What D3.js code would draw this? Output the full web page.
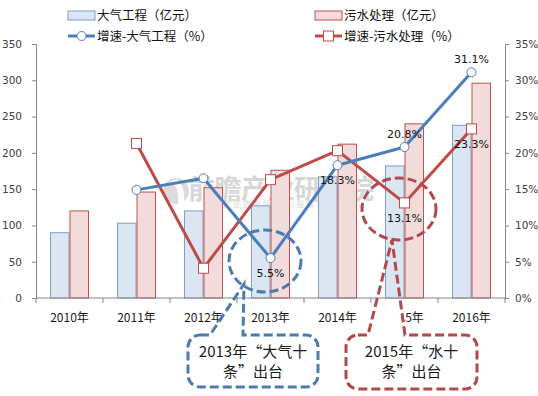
<!DOCTYPE html>
<html>
<head>
<meta charset="utf-8">
<script src="https://cdn.jsdelivr.net/npm/d3@7"></script>
<style>
  html, body { margin: 0; padding: 0; background: #fff; }
  svg { display: block; }
</style>
</head>
<body>
<script>
// Chart data
const years = ["2010年", "2011年", "2012年", "2013年", "2014年", "2015年", "2016年"];
const airInvest = [90, 103, 120, 127, 167, 182, 238];      // 大气工程（亿元）
const waterInvest = [120, 146, 152, 176, 212, 240, 296];   // 污水处理（亿元）
const airGrowth = [null, 14.9, 16.5, 5.5, 18.3, 20.8, 31.1];   // 增速-大气工程（%）
const waterGrowth = [null, 21.3, 4.1, 16.3, 20.3, 13.1, 23.3]; // 增速-污水处理（%）
const leftTicks = [0, 50, 100, 150, 200, 250, 300, 350];
const rightTicks = [0, 5, 10, 15, 20, 25, 30, 35];
// labelled growth points: year index, placement
const airLabels = [[3, "below"], [4, "below"], [5, "above"], [6, "above"]];
const waterLabels = [[5, "below"], [6, "below"]];

const W = 538, H = 396;
const blue = "#4a7ebb", red = "#be4b48";
const blueFill = "#dce6f2", blueEdge = "#7f9fca";
const pinkFill = "#f2dcdb", pinkEdge = "#c0504d";
const numFont = "'DejaVu Sans', Verdana, sans-serif";
const cjkFont = "'Noto Sans CJK SC', 'Noto Sans', sans-serif";

const svg = d3.select("body").append("svg").attr("width", W).attr("height", H);

const plot = { left: 36, right: 505, top: 44, bottom: 298 };
const x = d3.scaleBand().domain(years).range([plot.left, plot.right]).padding(0);
const xs = d3.scaleBand().domain(["air", "water"]).range([14, 53]).padding(0);
const yL = d3.scaleLinear().domain([0, 350]).range([plot.bottom, plot.top]);
const yR = d3.scaleLinear().domain([0, 35]).range([plot.bottom, plot.top]);
const cx = i => x(years[i]) + x.bandwidth() / 2;

// Watermark
const wm = svg.append("g").attr("opacity", 0.45);
wm.append("circle").attr("cx", 176).attr("cy", 191).attr("r", 13).attr("fill", "#b0b0b0");
wm.append("path").attr("d", "M170,182 Q180,186 178,204 L184,204 Q186,186 176,179 Z").attr("fill", "#fff");
wm.append("text").attr("x", 188).attr("y", 199).attr("font-family", cjkFont).attr("font-size", 27)
  .attr("font-weight", "bold").attr("fill", "#a8a8a8").attr("textLength", 186).text("前瞻产业研究院");
wm.append("text").attr("x", 203).attr("y", 207).attr("font-family", cjkFont).attr("font-size", 8)
  .attr("fill", "#a8a8a8").attr("textLength", 158).text("中国产业咨询领导者(股票:839559)");

// Bars
const barG = svg.append("g");
years.forEach((yr, i) => {
  barG.append("rect")
    .attr("x", x(yr) + xs("air") + 0.5).attr("width", xs.bandwidth() - 1)
    .attr("y", yL(airInvest[i])).attr("height", yL(0) - yL(airInvest[i]))
    .attr("fill", blueFill).attr("stroke", blueEdge).attr("stroke-width", 1);
  barG.append("rect")
    .attr("x", x(yr) + xs("water") + 0.5).attr("width", xs.bandwidth() - 1)
    .attr("y", yL(waterInvest[i])).attr("height", yL(0) - yL(waterInvest[i]))
    .attr("fill", pinkFill).attr("stroke", pinkEdge).attr("stroke-width", 1);
});

// Axes
const axisColor = "#868686";
const gL = svg.append("g").attr("transform", `translate(${plot.left},0)`)
  .call(d3.axisLeft(yL).tickValues(leftTicks).tickSize(4).tickPadding(10));
const gR = svg.append("g").attr("transform", `translate(${plot.right},0)`)
  .call(d3.axisRight(yR).tickValues(rightTicks).tickSize(4).tickPadding(6).tickFormat(d => d + "%"));
[gL, gR].forEach(g => {
  g.select(".domain").attr("stroke", axisColor);
  g.selectAll(".tick line").attr("stroke", axisColor);
  g.selectAll(".tick text").attr("fill", "#404040").attr("font-family", numFont).attr("font-size", 10.5);
});

// Category axis
const gX = svg.append("g").attr("transform", `translate(0,${plot.bottom})`);
gX.append("line").attr("x1", plot.left).attr("x2", plot.right).attr("stroke", axisColor);
d3.range(years.length + 1).forEach(k => {
  const xx = plot.left + k * x.bandwidth();
  gX.append("line").attr("x1", xx).attr("x2", xx).attr("y1", 0).attr("y2", 5).attr("stroke", axisColor);
});
years.forEach((yr, i) => {
  gX.append("text").attr("x", cx(i)).attr("y", 24).attr("text-anchor", "middle")
    .attr("font-family", cjkFont).attr("font-size", 12).attr("fill", "#1a1a1a").text(yr);
});

// Growth lines
function drawLine(vals, color, marker) {
  const pts = vals.map((v, i) => [i, v]).filter(p => p[1] != null);
  const line = d3.line().x(p => cx(p[0])).y(p => yR(p[1]));
  svg.append("path").datum(pts).attr("d", line).attr("fill", "none")
    .attr("stroke", color).attr("stroke-width", 3).attr("stroke-linejoin", "round");
  pts.forEach(p => {
    if (marker === "circle") {
      svg.append("circle").attr("cx", cx(p[0])).attr("cy", yR(p[1])).attr("r", 4.5)
        .attr("fill", "#fff").attr("stroke", color).attr("stroke-width", 1);
    } else {
      svg.append("rect").attr("x", cx(p[0]) - 5).attr("y", yR(p[1]) - 5).attr("width", 10).attr("height", 10)
        .attr("fill", "#fff").attr("stroke", color).attr("stroke-width", 1);
    }
  });
}
drawLine(waterGrowth, red, "square");
drawLine(airGrowth, blue, "circle");

function drawLabels(vals, list) {
  list.forEach(([i, pos]) => {
    svg.append("text").attr("x", cx(i)).attr("y", yR(vals[i]) + (pos === "above" ? -9 : 19))
      .attr("text-anchor", "middle").attr("font-family", numFont).attr("font-size", 11)
      .attr("fill", "#111").text(vals[i].toFixed(1) + "%");
  });
}
drawLabels(airGrowth, airLabels);
drawLabels(waterGrowth, waterLabels);

// Legend
const lg = svg.append("g").attr("font-family", cjkFont).attr("font-size", 12.5).attr("fill", "#111");
lg.append("rect").attr("x", 68).attr("y", 11).attr("width", 27).attr("height", 9)
  .attr("fill", blueFill).attr("stroke", blueEdge);
lg.append("text").attr("x", 97).attr("y", 20).text("大气工程（亿元）");
lg.append("line").attr("x1", 68).attr("x2", 95).attr("y1", 36).attr("y2", 36).attr("stroke", blue).attr("stroke-width", 3);
lg.append("circle").attr("cx", 81.5).attr("cy", 36).attr("r", 4.5).attr("fill", "#fff").attr("stroke", blue);
lg.append("text").attr("x", 97).attr("y", 41).text("增速-大气工程（%）");
lg.append("rect").attr("x", 315).attr("y", 11).attr("width", 27).attr("height", 9)
  .attr("fill", pinkFill).attr("stroke", pinkEdge);
lg.append("text").attr("x", 344).attr("y", 20).text("污水处理（亿元）");
lg.append("line").attr("x1", 315).attr("x2", 342).attr("y1", 36).attr("y2", 36).attr("stroke", red).attr("stroke-width", 3);
lg.append("rect").attr("x", 323.5).attr("y", 31).attr("width", 10).attr("height", 10).attr("fill", "#fff").attr("stroke", red);
lg.append("text").attr("x", 344).attr("y", 41).text("增速-污水处理（%）");

// Callouts: dashed ellipse around the highlighted point plus a speech box
function callout(o) {
  const { x0, x1, y0, y1, r, tl, tr, tip } = o;
  const p = d3.path();
  p.moveTo(x0 + r, y0);
  p.lineTo(tl, y0);
  p.lineTo(tip[0], tip[1]);
  p.lineTo(tr, y0);
  p.lineTo(x1 - r, y0);
  p.arcTo(x1, y0, x1, y0 + r, r);
  p.lineTo(x1, y1 - r);
  p.arcTo(x1, y1, x1 - r, y1, r);
  p.lineTo(x0 + r, y1);
  p.arcTo(x0, y1, x0, y1 - r, r);
  p.lineTo(x0, y0 + r);
  p.arcTo(x0, y0, x0 + r, y0, r);
  p.closePath();
  if (o.fill) {
    const id = "clip" + o.id;
    svg.append("clipPath").attr("id", id).append("rect")
      .attr("x", 0).attr("y", plot.bottom + 1).attr("width", W).attr("height", H);
    svg.append("path").attr("d", p.toString()).attr("fill", "#fff").attr("clip-path", `url(#${id})`);
  }
  svg.append("path").attr("d", p.toString()).attr("fill", "none")
    .attr("stroke", o.color).attr("stroke-width", 3).attr("stroke-dasharray", "9,4");
  svg.append("ellipse").attr("cx", o.ell[0]).attr("cy", o.ell[1]).attr("rx", o.ell[2]).attr("ry", o.ell[3])
    .attr("fill", "none").attr("stroke", o.color).attr("stroke-width", 3).attr("stroke-dasharray", "9,4");
  const t = svg.append("text").attr("font-family", cjkFont).attr("font-size", 15).attr("fill", "#1a1a1a")
    .attr("text-anchor", "middle");
  o.lines.forEach((s, k) => {
    t.append("tspan").attr("x", (x0 + x1) / 2).attr("y", y0 + 22 + k * 20).text(s);
  });
}
callout({ id: "a", color: "#4d7bae", x0: 188, x1: 318, y0: 335, y1: 387, r: 12, tl: 210, tr: 243,
  tip: [244, 284], ell: [265, 261, 36, 31], lines: ["2013年“大气十", "条”出台"] });
callout({ id: "w", color: "#b04a4d", fill: true, x0: 346, x1: 477, y0: 335, y1: 389, r: 12, tl: 368, tr: 405,
  tip: [392, 240], ell: [399, 209, 37, 31], lines: ["2015年“水十", "条”出台"] });
</script>
</body>
</html>
